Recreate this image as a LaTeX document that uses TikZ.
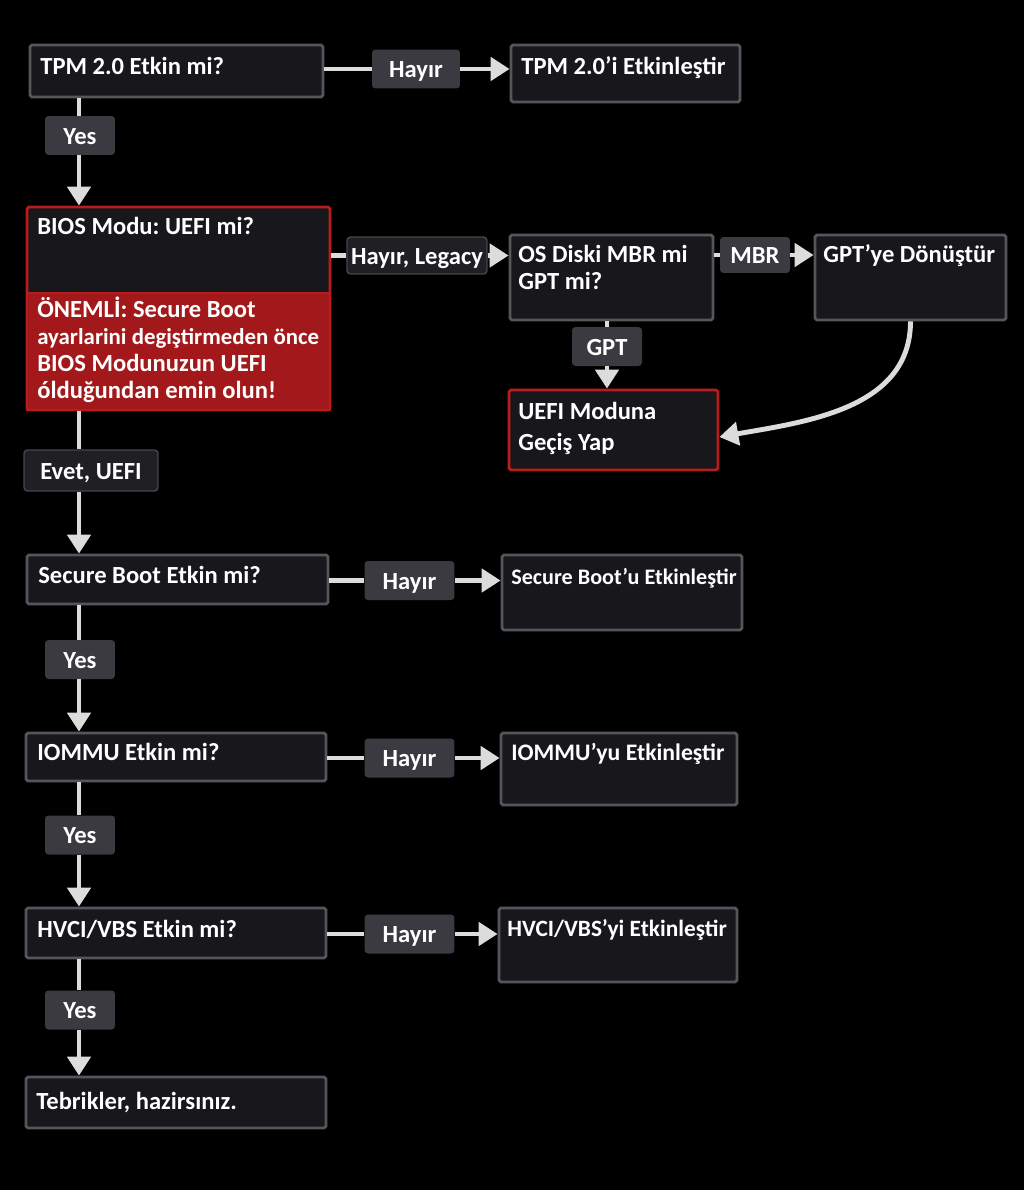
\documentclass[tikz,border=0pt]{standalone}
\usepackage{fontspec}
\setmainfont{Carlito}
\usetikzlibrary{arrows.meta}
\frenchspacing

\definecolor{boxfill}{HTML}{18181C}
\definecolor{boxline}{HTML}{55555C}
\definecolor{redline}{HTML}{B81C1C}
\definecolor{warnred}{HTML}{A3191B}
\definecolor{tagfill}{HTML}{3A3A40}
\definecolor{darkfill}{HTML}{202024}
\definecolor{darkline}{HTML}{46464C}
\definecolor{wirecol}{HTML}{DCDCDC}

\begin{document}
\begin{tikzpicture}[
        x=0.02cm, y=-0.02cm,
        % --- Box styles ---
        box/.style={
            draw=boxline, fill=boxfill, line width=1.6pt,
            rounded corners=1pt, inner sep=0pt
        },
        redbox/.style={box, draw=redline},
        txt/.style={
            anchor=base west, inner sep=0pt, text=white,
            font=\fontsize{14}{15.4}\selectfont\bfseries
        },
        % --- Edge labels ---
        tag/.style={
            fill=tagfill, rounded corners=2pt, inner sep=0pt,
            text=white, font=\fontsize{14}{15}\selectfont\bfseries,
            text height=10pt, text depth=0pt,
            minimum width=1.4cm, minimum height=0.78cm
        },
        notag/.style={tag, minimum width=1.8cm},
        darktag/.style={tag, fill=darkfill, draw=darkline, line width=0.8pt},
        % --- Connectors ---
        wire/.style={draw=wirecol, line width=2.8pt},
        arrow/.style={wire, -{Triangle[width=0.46cm, length=0.38cm]}},
    ]

    % ===== Canvas =====
    \fill[black] (0,0) rectangle (1024,1190);
    \useasboundingbox (0,0) rectangle (1024,1190);
    \coordinate (spine) at (79,0);

    % ===== Main column =====
    \node[box, minimum width=5.86cm, minimum height=1.04cm] (tpm) at (176.5,71) {};
    \node[txt] (tpm-t) at (40,74) {TPM 2.0 Etkin mi?};

    \node[redbox, minimum width=6.06cm, minimum height=4.06cm] (bios) at (178.5,308.5) {};
    \node[fill=warnred, draw=redline, line width=1.6pt, inner sep=0pt,
          minimum width=6.06cm, minimum height=2.34cm] (warn) at (178.5,351.5) {};
    \node[txt] (bios-t) at (37,234) {BIOS Modu: UEFI mi?};
    \node[txt, text width=6cm, align=flush left] (warn-t) at (37,317)
        {ÖNEMLİ: Secure Boot\\
         {\fontsize{13}{15}\selectfont ayarlarini degiştirmeden önce}\\
         BIOS Modunuzun UEFI\\
         ólduğundan emin olun!};

    \node[box, minimum width=6.02cm, minimum height=0.98cm] (secure) at (177.5,579.5) {};
    \node[txt] (secure-t) at (38,583) {Secure Boot Etkin mi?};

    \node[box, minimum width=6.0cm, minimum height=0.96cm] (iommu) at (176,757) {};
    \node[txt] (iommu-t) at (37,760) {IOMMU Etkin mi?};

    \node[box, minimum width=6.0cm, minimum height=1.0cm] (hvci) at (176,933) {};
    \node[txt] (hvci-t) at (37,937) {HVCI/VBS Etkin mi?};

    \node[box, minimum width=6.0cm, minimum height=1.02cm] (done) at (176,1102.5) {};
    \node[txt] (done-t) at (36,1109) {Tebrikler, hazirsınız.};

    % ===== Fix boxes =====
    \node[box, minimum width=4.58cm, minimum height=1.14cm] (tpmfix) at (625.5,73.5) {};
    \node[txt] (tpmfix-t) at (521,74) {TPM 2.0’i Etkinleştir};

    \node[box, minimum width=4.06cm, minimum height=1.7cm] (osdisk) at (611.5,277.5) {};
    \node[txt, text width=4cm, align=flush left] (osdisk-t) at (518,262) {OS Diski MBR mi\\GPT mi?};

    \node[box, minimum width=3.82cm, minimum height=1.7cm] (gptconv) at (910.5,277.5) {};
    \node[txt] (gptconv-t) at (823,262) {GPT’ye Dönüştür};

    \node[redbox, minimum width=4.18cm, minimum height=1.6cm] (uefi) at (613.5,430) {};
    \node[txt, text width=4cm, align=flush left, font=\fontsize{14}{17.8}\selectfont\bfseries]
        (uefi-t) at (518,419) {UEFI Moduna\\Geçiş Yap};

    \node[box, minimum width=4.8cm, minimum height=1.5cm] (securefix) at (622,592.5) {};
    \node[txt, font=\fontsize{12.6}{15}\selectfont\bfseries] (securefix-t) at (511,584) {Secure Boot’u Etkinleştir};

    \node[box, minimum width=4.72cm, minimum height=1.44cm] (iommufix) at (619,769) {};
    \node[txt, font=\fontsize{13.5}{15}\selectfont\bfseries] (iommufix-t) at (511,760) {IOMMU’yu Etkinleştir};

    \node[box, minimum width=4.76cm, minimum height=1.48cm] (hvcifix) at (618,945) {};
    \node[txt, font=\fontsize{13.3}{15}\selectfont\bfseries] (hvcifix-t) at (507,936) {HVCI/VBS’yi Etkinleştir};

    % ===== Edge labels =====
    \node[notag, minimum width=1.76cm] (no1) at (416,69) {Hayır};
    \node[tag] (yes1) at (80,135.5) {Yes};
    \node[darktag, minimum width=2.8cm, minimum height=0.74cm] (legacy) at (417,255.5) {Hayır, Legacy};
    \node[tag, minimum height=0.72cm] (mbr) at (755,255) {MBR};
    \node[tag] (gpt) at (607,346.5) {GPT};
    \node[darktag, minimum width=2.68cm, minimum height=0.82cm] (uefiyes) at (91,470.5) {Evet, UEFI};
    \node[notag] (no2) at (409.5,580.5) {Hayır};
    \node[tag] (yes2) at (80,659.5) {Yes};
    \node[notag] (no3) at (409.5,758) {Hayır};
    \node[tag] (yes3) at (80,835) {Yes};
    \node[notag] (no4) at (409.5,934) {Hayır};
    \node[tag] (yes4) at (80,1010) {Yes};

    % ===== Connectors =====
    % TPM
    \draw[wire] (tpm.east |- no1) -- (no1.west);
    \draw[arrow] (no1.east) -- (no1.east -| tpmfix.west);
    \draw[wire] (tpm.south -| spine) -- (yes1.north -| spine);
    \draw[arrow] (yes1.south -| spine) -- (bios.north -| spine);

    % BIOS mode
    \draw[wire] (bios.east |- legacy) -- (legacy.west);
    \draw[arrow] (legacy.east) -- (legacy.east -| osdisk.west);
    \draw[wire] (osdisk.east |- mbr) -- (mbr.west);
    \draw[arrow] (mbr.east) -- (mbr.east -| gptconv.west);
    \draw[wire] (osdisk.south -| gpt) -- (gpt.north);
    \draw[arrow] (gpt.south) -- (gpt.south |- uefi.north);
    \draw[arrow] (gptconv.south) to[out=-90, in=10] ([yshift=-0.14cm]uefi.east);
    \draw[wire] (bios.south -| spine) -- (uefiyes.north -| spine);
    \draw[arrow] (uefiyes.south -| spine) -- (secure.north -| spine);

    % Secure Boot
    \draw[wire] (secure.east |- no2) -- (no2.west);
    \draw[arrow] (no2.east) -- (no2.east -| securefix.west);
    \draw[wire] (secure.south -| spine) -- (yes2.north -| spine);
    \draw[arrow] (yes2.south -| spine) -- (iommu.north -| spine);

    % IOMMU
    \draw[wire] (iommu.east |- no3) -- (no3.west);
    \draw[arrow] (no3.east) -- (no3.east -| iommufix.west);
    \draw[wire] (iommu.south -| spine) -- (yes3.north -| spine);
    \draw[arrow] (yes3.south -| spine) -- (hvci.north -| spine);

    % HVCI
    \draw[wire] (hvci.east |- no4) -- (no4.west);
    \draw[arrow] (no4.east) -- (no4.east -| hvcifix.west);
    \draw[wire] (hvci.south -| spine) -- (yes4.north -| spine);
    \draw[arrow] (yes4.south -| spine) -- (done.north -| spine);

\end{tikzpicture}
\end{document}
